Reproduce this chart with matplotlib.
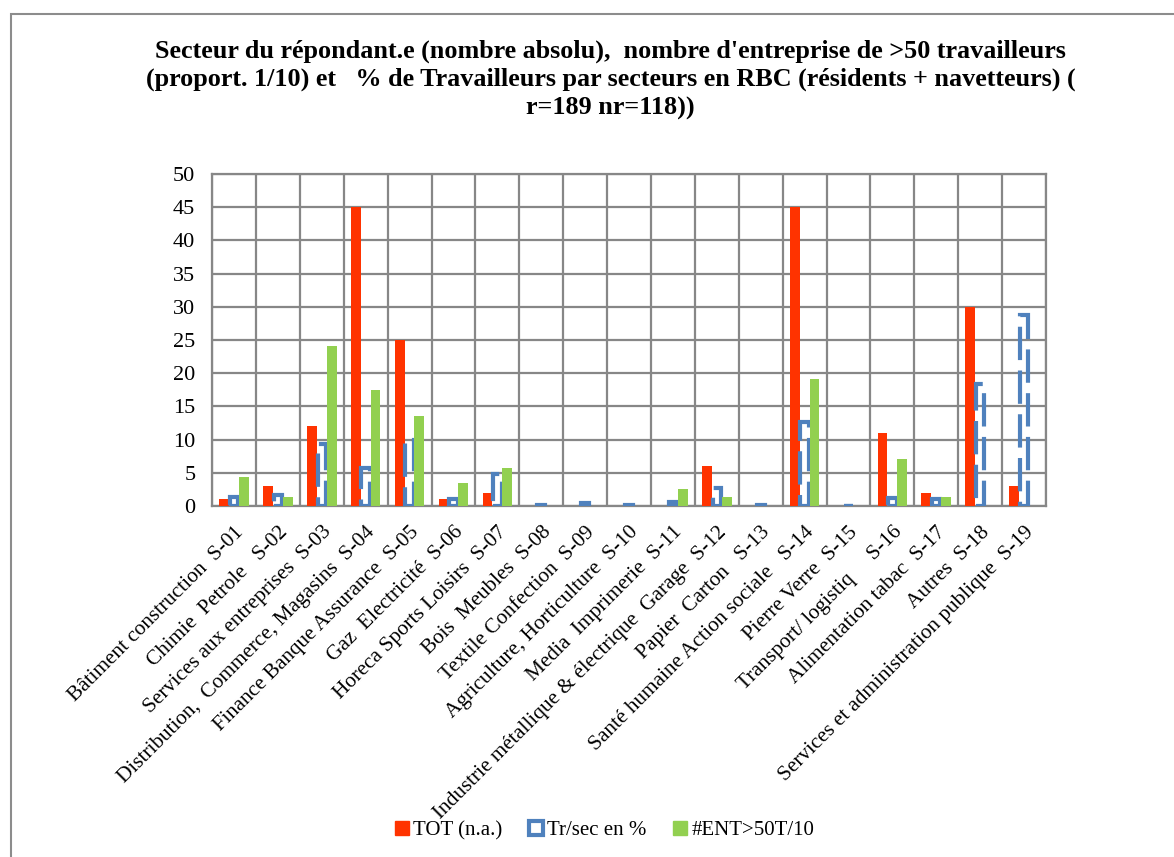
import numpy as np
import matplotlib
matplotlib.use("Agg")
import matplotlib.pyplot as plt
from matplotlib.patches import Rectangle, Patch

plt.rcParams['font.family'] = ['Liberation Serif', 'DejaVu Serif']

# sector labels as they appear on the x axis
sectors = [
    "Bâtiment construction  S-01",
    "Chimie  Petrole   S-02",
    "Services aux entreprises  S-03",
    "Distribution,  Commerce, Magasins  S-04",
    "Finance Banque Assurance  S-05",
    "Gaz  Electricité  S-06",
    "Horeca Sports Loisirs  S-07",
    "Bois  Meubles  S-08",
    "Textile Confection  S-09",
    "Agriculture, Horticulture  S-10",
    "Media  Imprimerie  S-11",
    "Industrie métallique & électrique  Garage  S-12",
    "Papier  Carton   S-13",
    "Santé humaine Action sociale   S-14",
    "Pierre Verre  S-15",
    "Transport/ logistiq     S-16",
    "Alimentation tabac  S-17",
    "Autres  S-18",
    "Services et administration publique  S-19",
]

tot = [1, 3, 12, 45, 25, 1, 2, 0, 0, 0, 0, 6, 0, 45, 0, 11, 2, 30, 3]
tr_sec = [1.4, 1.6, 9.3, 5.7, 9.9, 1.0, 4.8, 0.2, 0.4, 0.2, 0.6, 2.7, 0.2,
          12.7, 0, 1.2, 1.0, 18.3, 28.8]
ent50 = [4.3, 1.3, 24.1, 17.4, 13.6, 3.4, 5.7, 0, 0, 0, 2.5, 1.3, 0,
         19.1, 0, 7.1, 1.3, 0, 0]

legend_labels = ["TOT (n.a.)", "Tr/sec en %", "#ENT>50T/10"]

title = ("Secteur du répondant.e (nombre absolu),  nombre d'entreprise de >50 travailleurs\n"
         "(proport. 1/10) et   % de Travailleurs par secteurs en RBC (résidents + navetteurs) (\n"
         "r=189 nr=118))")

red = "#ff3300"
blue = "#4f81bd"
green = "#92d050"
grid_col = "#878787"

fig = plt.figure(figsize=(11.74, 8.57), dpi=100)
ax = fig.add_axes([0.1806, 0.4096, 0.7104, 0.3874])

x = np.arange(len(sectors))
w = 0.225

ax.bar(x - w, tot, width=w, color=red, zorder=3)
ax.bar(x, tr_sec, width=0.19, fill=False, edgecolor=blue, linewidth=3,
       linestyle=(0, (8, 2.5)), zorder=3)
ax.bar(x + w, ent50, width=w, color=green, zorder=3)

ax.set_xlim(-0.5, len(sectors) - 0.5)
ax.set_ylim(0, 50)
ax.set_yticks(range(0, 51, 5))
ax.set_xticks(x)
ax.set_xticklabels(sectors, rotation=45, ha='right', rotation_mode='anchor',
                   fontsize=15.3)
ax.set_xticks(np.arange(-0.5, len(sectors), 1), minor=True)
ax.tick_params(axis='x', which='both', length=0, pad=12)
ax.tick_params(axis='y', length=0, pad=12, labelsize=16)

ax.grid(True, axis='y', color=grid_col, linewidth=1.6, zorder=0)
ax.grid(True, axis='x', which='minor', color=grid_col, linewidth=1.6, zorder=0)
ax.grid(False, axis='x', which='major')
for s in ax.spines.values():
    s.set_color(grid_col)
    s.set_linewidth(1.6)

fig.text(0.52, 0.907, title, ha='center', va='center', fontsize=18.8,
         fontweight='bold', linespacing=1.28)

handles = [Patch(facecolor=red, edgecolor=red),
           Patch(facecolor='white', edgecolor=blue, linewidth=3),
           Patch(facecolor=green, edgecolor=green)]
fig.legend(handles, legend_labels, loc='center', bbox_to_anchor=(0.515, 0.031),
           ncol=3, frameon=False, fontsize=15, handlelength=0.7,
           handleheight=0.7, handletextpad=0.2, columnspacing=1.25)

# outer chart border
fig.patches.append(Rectangle((11 / 1174, -0.01), 1.02, 1 - 14 / 857 + 0.01,
                             transform=fig.transFigure, fill=False,
                             edgecolor='#8c8c8c', linewidth=1.5))

fig.savefig("out.png", dpi=100)
